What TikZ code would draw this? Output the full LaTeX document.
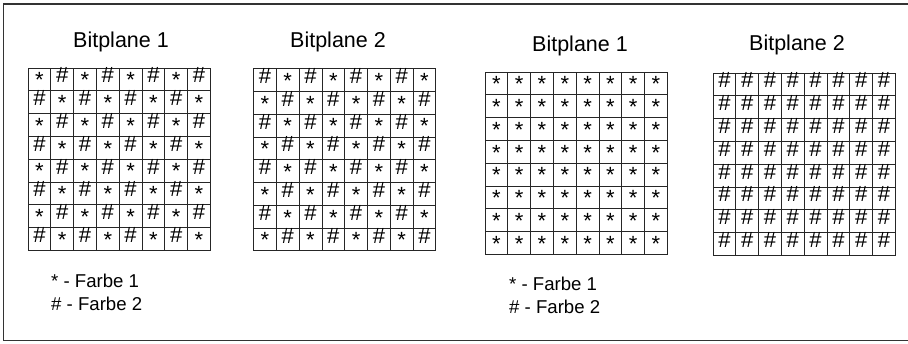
\documentclass[tikz,border=0pt]{standalone}
\usepackage{fontspec}
\setmainfont{Liberation Sans}
\usetikzlibrary{positioning}
\tikzset{
  gridline/.style={draw=black!85, line width=0.7pt},
  gridframe/.style={draw=black!85, line width=1pt},
  cell/.style={inner sep=0pt, text height=0.7em, text depth=0pt,
    font=\fontsize{22}{22}\selectfont},
  title/.style={anchor=base, font=\fontsize{21.5}{24}\selectfont},
  legend/.style={anchor=base west, inner sep=0pt, font=\fontsize{18.6}{23}\selectfont},
  frame/.style={draw=black!80, line width=1.4pt}
}
% one cell symbol per colour
\newcommand{\colA}{\raisebox{-0.22em}{*}}
\newcommand{\colB}{\#}

\begin{document}
\begin{tikzpicture}[x=1pt, y=-1pt]
  \useasboundingbox (0,0) rectangle (908,343);
  \draw[frame] (910,4) -- (3.5,4) -- (3.5,340.5) -- (910,340.5);

  % titles
  \node[title] (t1) at (121,47) {Bitplane 1};
  \node[title] (t2) at (338,47) {Bitplane 2};
  \node[title] (t3) at (580,51) {Bitplane 1};
  \node[title] (t4) at (797,50) {Bitplane 2};

  % left pair: checkerboards
  \begin{scope}[shift={(28,68)}, x=22.8pt, y=-22.8pt]
    \foreach \i in {1,...,7} {
      \draw[gridline] (\i,0) -- (\i,8);
      \draw[gridline] (0,\i) -- (8,\i);
    }
    \draw[gridframe] (0,0) rectangle (8,8);
    \foreach \r in {0,...,7}
      \foreach \c in {0,...,7}
        \node[cell] (a-\r-\c) at (\c+0.5,\r+0.5)
          {\ifodd\numexpr\r+\c\relax\colB\else\colA\fi};
  \end{scope}
  \begin{scope}[shift={(253.5,68.5)}, x=22.8pt, y=-22.8pt]
    \foreach \i in {1,...,7} {
      \draw[gridline] (\i,0) -- (\i,8);
      \draw[gridline] (0,\i) -- (8,\i);
    }
    \draw[gridframe] (0,0) rectangle (8,8);
    \foreach \r in {0,...,7}
      \foreach \c in {0,...,7}
        \node[cell] (b-\r-\c) at (\c+0.5,\r+0.5)
          {\ifodd\numexpr\r+\c\relax\colA\else\colB\fi};
  \end{scope}

  % right pair: plain planes
  \begin{scope}[shift={(485,72)}, x=22.8pt, y=-22.8pt]
    \foreach \i in {1,...,7} {
      \draw[gridline] (\i,0) -- (\i,8);
      \draw[gridline] (0,\i) -- (8,\i);
    }
    \draw[gridframe] (0,0) rectangle (8,8);
    \foreach \r in {0,...,7}
      \foreach \c in {0,...,7}
        \node[cell] (c-\r-\c) at (\c+0.5,\r+0.5) {\colA};
  \end{scope}
  \begin{scope}[shift={(713,73)}, x=22.8pt, y=-22.8pt]
    \foreach \i in {1,...,7} {
      \draw[gridline] (\i,0) -- (\i,8);
      \draw[gridline] (0,\i) -- (8,\i);
    }
    \draw[gridframe] (0,0) rectangle (8,8);
    \foreach \r in {0,...,7}
      \foreach \c in {0,...,7}
        \node[cell] (d-\r-\c) at (\c+0.5,\r+0.5) {\colB};
  \end{scope}

  % legends
  \node[legend] (l1a) at (51,287) {* - Farbe 1};
  \node[legend] (l1b) at (51,310) {\# - Farbe 2};
  \node[legend] (l2a) at (509,290) {* - Farbe 1};
  \node[legend] (l2b) at (509,313) {\# - Farbe 2};
\end{tikzpicture}
\end{document}
